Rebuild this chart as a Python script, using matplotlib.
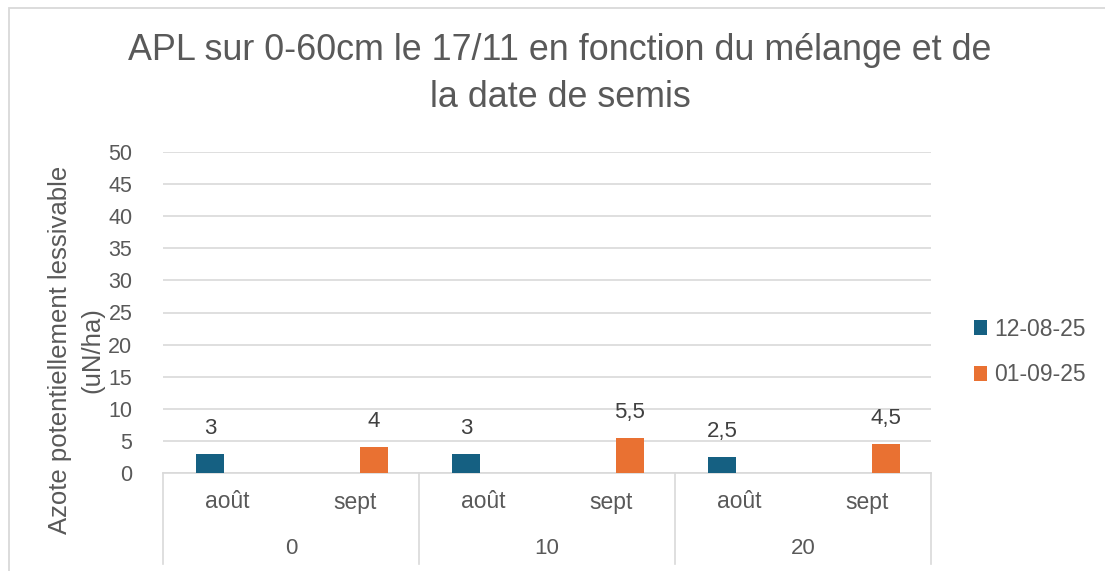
import matplotlib
matplotlib.use("Agg")
import matplotlib.pyplot as plt
import numpy as np
from matplotlib.patches import Rectangle, Patch
from matplotlib.lines import Line2D

plt.rcParams['font.family'] = ['Liberation Sans', 'DejaVu Sans']

groups = ["0", "10", "20"]
subcats = ["août", "sept"]
series_names = ["12-08-25", "01-09-25"]
s1_values = [3, np.nan, 3, np.nan, 2.5, np.nan]
s2_values = [np.nan, 4, np.nan, 5.5, np.nan, 4.5]
s1_labels = ["3", "", "3", "", "2,5", ""]
s2_labels = ["", "4", "", "5,5", "", "4,5"]

c1 = "#156082"
c2 = "#E97132"
txt = "#595959"
grid = "#D9D9D9"

W, H = 1105, 571
fig = plt.figure(figsize=(W / 100, H / 100), dpi=100)

# chart border (left and top edges visible)
fig.patches.append(Rectangle((9 / W, -0.1), 1.2, 1.1 - 8 / H, transform=fig.transFigure,
                             fill=False, edgecolor=grid, linewidth=1.3))

x0, x1, ytop, ybot = 163, 931, 152, 473
ax = fig.add_axes([x0 / W, 1 - ybot / H, (x1 - x0) / W, (ybot - ytop) / H])

n = len(s1_values)
x = np.arange(n)
bw = 0.225
ax.bar(x - 0.133, s1_values, width=bw, color=c1, zorder=3)
ax.bar(x + 0.148, s2_values, width=bw, color=c2, zorder=3)

for i in range(n):
    if s1_labels[i]:
        ax.annotate(s1_labels[i], (x[i] - 0.133, s1_values[i]), xytext=(0, 15),
                    textcoords='offset pixels', ha='center', va='bottom',
                    fontsize=16, color='#404040')
    if s2_labels[i]:
        ax.annotate(s2_labels[i], (x[i] + 0.148, s2_values[i]), xytext=(0, 15),
                    textcoords='offset pixels', ha='center', va='bottom',
                    fontsize=16, color='#404040')

ax.set_xlim(-0.5, n - 0.5)
ax.set_ylim(0, 50)
ax.set_yticks(np.arange(0, 51, 5))
ax.tick_params(axis='y', length=0, labelsize=15.5, labelcolor=txt, pad=22)
ax.set_xticks([])
ax.yaxis.grid(True, color=grid, linewidth=1.2, zorder=0)
for s in ['top', 'right', 'left']:
    ax.spines[s].set_visible(False)
ax.spines['bottom'].set_color(grid)
ax.spines['bottom'].set_linewidth(1.2)

trans = ax.get_xaxis_transform()
hpx = ybot - ytop
for i in range(n):
    ax.text(x[i], -(502 - ybot) / hpx, subcats[i % 2], transform=trans,
            ha='center', va='center', fontsize=16.5, color=txt)
for g, name in enumerate(groups):
    ax.text(2 * g + 0.5, -(548 - ybot) / hpx, name, transform=trans,
            ha='center', va='center', fontsize=16, color=txt)
for b in [-0.5, 1.5, 3.5, 5.5]:
    ax.add_line(Line2D([b, b], [0, -(564 - ybot) / hpx], transform=trans,
                       color=grid, linewidth=1.2, clip_on=False))

fig.text(76.5 / W, 1 - 350 / H, "Azote potentiellement lessivable\n(uN/ha)",
         rotation=90, ha='center', va='center', fontsize=18.5, color=txt,
         linespacing=1.46)

fig.text(560 / W, 1 - 74 / H,
         "APL sur 0-60cm le 17/11 en fonction du mélange et de\nla date de semis",
         ha='center', va='center', fontsize=25.8, color=txt, linespacing=1.45)

handles = [Patch(facecolor=c1), Patch(facecolor=c2)]
fig.legend(handles, series_names, loc='center left',
           bbox_to_anchor=(953 / W, 1 - 352 / H), frameon=False,
           fontsize=16.5, labelcolor=txt, handlelength=0.6, handleheight=0.6,
           handletextpad=0.3, labelspacing=1.0)

fig.savefig("out.png", dpi=100)
